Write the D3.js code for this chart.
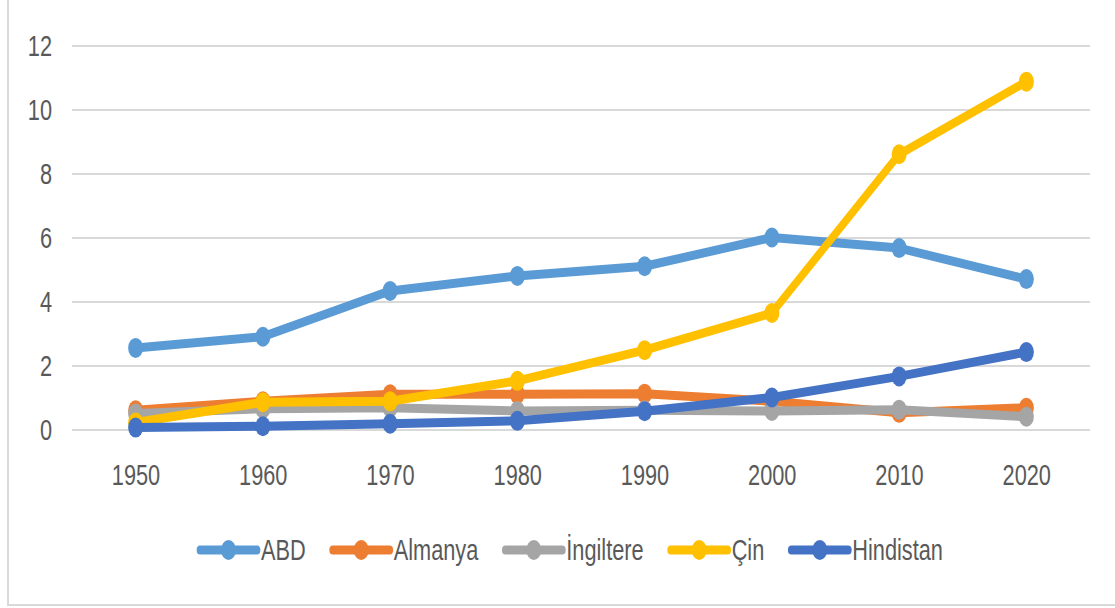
<!DOCTYPE html>
<html>
<head>
<meta charset="utf-8">
<script src="https://cdn.jsdelivr.net/npm/d3@7"></script>
<style>
  body { margin: 0; background: #fff; }
  text { font-family: "Liberation Sans", Arial, sans-serif; fill: #595959; }
</style>
</head>
<body>
<div id="chart"></div>
<script>
// data
var years = ["1950", "1960", "1970", "1980", "1990", "2000", "2010", "2020"];
var seriesNames = ["ABD", "Almanya", "İngiltere", "Çin", "Hindistan"];
var abd       = [2.55, 2.9, 4.33, 4.8, 5.1, 6.0, 5.67, 4.7];
var almanya   = [0.6, 0.88, 1.1, 1.1, 1.12, 0.88, 0.52, 0.68];
var ingiltere = [0.5, 0.65, 0.68, 0.58, 0.6, 0.58, 0.62, 0.4];
var cin       = [0.22, 0.85, 0.88, 1.52, 2.48, 3.64, 8.6, 10.87];
var hindistan = [0.06, 0.1, 0.18, 0.27, 0.57, 1.0, 1.66, 2.42];
var yTicks = [0, 2, 4, 6, 8, 10, 12];
var colors = ["#5B9BD5", "#ED7D31", "#A5A5A5", "#FFC000", "#4472C4"];

var values = [abd, almanya, ingiltere, cin, hindistan];

(function() {
  var width = 1115,
      height = 608,
      sx = 0.75; // the original picture is squeezed sideways

  var svg = d3.select("#chart")
    .append("svg")
    .attr("width", width)
    .attr("height", height);

  svg.append("rect")
    .attr("width", width).attr("height", height)
    .attr("fill", "#fff");

  // frame (only left and bottom edges are visible)
  svg.append("line")
    .attr("x1", 8).attr("x2", 8).attr("y1", 0).attr("y2", 606)
    .attr("stroke", "#d9d9d9").attr("stroke-width", 2);
  svg.append("line")
    .attr("x1", 8).attr("x2", width).attr("y1", 605).attr("y2", 605)
    .attr("stroke", "#d9d9d9").attr("stroke-width", 2);

  var g = svg.append("g")
    .attr("transform", "scale(" + sx + ",1)");

  var x = d3.scalePoint()
    .domain(years)
    .range([72 / sx, 1090 / sx])
    .padding(0.5);

  var y = d3.scaleLinear()
    .domain([0, 12])
    .range([429.5, 45.5]);

  // gridlines + y labels
  var yAxis = d3.axisLeft(y)
    .tickValues(yTicks)
    .tickSize(-(1090 - 72) / sx)
    .tickPadding(20 / sx)
    .tickFormat(d3.format("d"));

  var ya = g.append("g")
    .attr("transform", "translate(" + (72 / sx) + ",0)")
    .call(yAxis);
  ya.select(".domain").remove();
  ya.selectAll(".tick line")
    .attr("stroke", "#d9d9d9")
    .attr("stroke-width", 2);
  ya.selectAll(".tick text")
    .attr("font-size", 29)
    .attr("fill", "#595959")
    .attr("font-family", "Liberation Sans, Arial, sans-serif")
    .attr("dy", "0.35em");

  // x labels
  var xAxis = d3.axisBottom(x).tickSize(0).tickPadding(0);
  var xa = g.append("g")
    .attr("transform", "translate(0,464)")
    .call(xAxis);
  xa.select(".domain").remove();
  xa.selectAll(".tick text")
    .attr("font-size", 29)
    .attr("fill", "#595959")
    .attr("font-family", "Liberation Sans, Arial, sans-serif")
    .attr("dy", "0.72em");

  var line = d3.line()
    .x(function(d, i) { return x(years[i]); })
    .y(function(d) { return y(d); });

  seriesNames.forEach(function(name, k) {
    var s = g.append("g").attr("class", "series");
    s.append("path")
      .attr("d", line(values[k]))
      .attr("fill", "none")
      .attr("stroke", colors[k])
      .attr("stroke-width", 9)
      .attr("stroke-linejoin", "round")
      .attr("stroke-linecap", "round");
    s.selectAll("circle")
      .data(values[k])
      .enter().append("circle")
      .attr("cx", function(d, i) { return x(years[i]); })
      .attr("cy", function(d) { return y(d); })
      .attr("r", 10)
      .attr("fill", colors[k]);
  });

  // legend
  var lx = 200 / sx,
      ly = 550,
      lineLen = 57 / sx;

  seriesNames.forEach(function(name, k) {
    var item = g.append("g").attr("class", "legend-item");
    item.append("line")
      .attr("x1", lx).attr("x2", lx + lineLen)
      .attr("y1", ly).attr("y2", ly)
      .attr("stroke", colors[k])
      .attr("stroke-width", 9)
      .attr("stroke-linecap", "round");
    item.append("circle")
      .attr("cx", lx + lineLen / 2)
      .attr("cy", ly)
      .attr("r", 10)
      .attr("fill", colors[k]);
    var t = item.append("text")
      .attr("x", lx + lineLen + 4 / sx)
      .attr("y", ly)
      .attr("dy", "0.35em")
      .attr("font-size", 29)
      .text(name);
    lx = lx + lineLen + 4 / sx + t.node().getComputedTextLength() + 27 / sx;
  });
})();
</script>
</body>
</html>
